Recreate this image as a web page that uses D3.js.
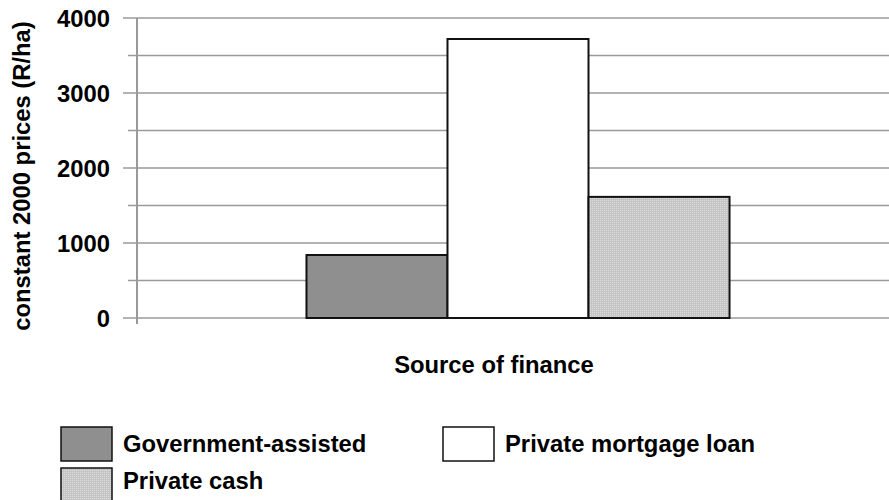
<!DOCTYPE html>
<html>
<head>
<meta charset="utf-8">
<script src="https://cdn.jsdelivr.net/npm/d3@7"></script>
<style>
  body { margin: 0; background: #fff; }
  svg text { font-family: "Liberation Sans", Arial, sans-serif; font-weight: bold; fill: #000; }
</style>
</head>
<body>
<svg id="chart" width="889" height="500"></svg>
<script>
// data
var categories = ["Source of finance"];
var series = ["Government-assisted", "Private mortgage loan", "Private cash"];
var values = [840, 3720, 1615];
var yTicks = [0, 1000, 2000, 3000, 4000];
var yMinorTicks = [500, 1500, 2500, 3500];

var svg = d3.select("#chart");
var fontSize = 23.8;

// fine grid pattern for the private cash bars
var defs = svg.append("defs");
var pat = defs.append("pattern")
  .attr("id", "checker")
  .attr("width", 2).attr("height", 2)
  .attr("patternUnits", "userSpaceOnUse");
pat.append("rect").attr("width", 2).attr("height", 2).attr("fill", "#c4c4c4");
pat.append("rect").attr("width", 1).attr("height", 1).attr("fill", "#dedede");

var fills = ["#8f8f8f", "#ffffff", "url(#checker)"];

var y = d3.scaleLinear()
  .domain([0, 4000])
  .range([318, 18]);

var x0 = d3.scaleBand()
  .domain(categories)
  .range([136, 900])
  .paddingInner(0)
  .paddingOuter(0.403);

var x1 = d3.scaleBand()
  .domain(series)
  .range([0, x0.bandwidth()]);

// gridlines (major ones poke out further left as ticks)
svg.append("g")
  .selectAll("line")
  .data(yTicks)
  .enter().append("line")
    .attr("x1", 123).attr("x2", 889)
    .attr("y1", d => y(d)).attr("y2", d => y(d))
    .attr("stroke", "#9a9a9a")
    .attr("stroke-width", 1.6);

svg.append("g")
  .selectAll("line")
  .data(yMinorTicks)
  .enter().append("line")
    .attr("x1", 128).attr("x2", 889)
    .attr("y1", d => y(d)).attr("y2", d => y(d))
    .attr("stroke", "#9a9a9a")
    .attr("stroke-width", 1.6);

// y axis line
svg.append("line")
  .attr("x1", 137).attr("x2", 137)
  .attr("y1", y(4000)).attr("y2", y(0) + 6)
  .attr("stroke", "#999")
  .attr("stroke-width", 2);

// tick labels
svg.append("g")
  .selectAll("text")
  .data(yTicks)
  .enter().append("text")
    .attr("x", 110)
    .attr("y", d => y(d))
    .attr("dy", "0.36em")
    .attr("text-anchor", "end")
    .style("font-size", fontSize + "px")
    .text(d => d);

// bars
svg.append("g")
  .selectAll("rect")
  .data(series)
  .enter().append("rect")
    .attr("x", d => x0(categories[0]) + x1(d))
    .attr("y", (d, i) => y(values[i]))
    .attr("width", x1.bandwidth())
    .attr("height", (d, i) => y(0) - y(values[i]))
    .attr("fill", (d, i) => fills[i])
    .attr("stroke", "#111")
    .attr("stroke-width", 2);

// axis titles
svg.append("text")
  .attr("x", 494)
  .attr("y", 373)
  .attr("text-anchor", "middle")
  .style("font-size", fontSize + "px")
  .text(categories[0]);

svg.append("text")
  .attr("transform", "translate(21,176) rotate(-90)")
  .attr("text-anchor", "middle")
  .attr("dy", "0.36em")
  .style("font-size", fontSize + "px")
  .text("constant 2000 prices (R/ha)");

// legend
var legendPos = [[61, 427, 452], [443, 427, 452], [61, 468, 489]];
var legend = svg.append("g")
  .selectAll("g")
  .data(series)
  .enter().append("g");

legend.append("rect")
  .attr("x", (d, i) => legendPos[i][0])
  .attr("y", (d, i) => legendPos[i][1])
  .attr("width", 51)
  .attr("height", 34)
  .attr("fill", (d, i) => fills[i])
  .attr("stroke", "#111")
  .attr("stroke-width", 1.5);

legend.append("text")
  .attr("x", (d, i) => legendPos[i][0] + 62)
  .attr("y", (d, i) => legendPos[i][2])
  .style("font-size", fontSize + "px")
  .text(d => d);
</script>
</body>
</html>
